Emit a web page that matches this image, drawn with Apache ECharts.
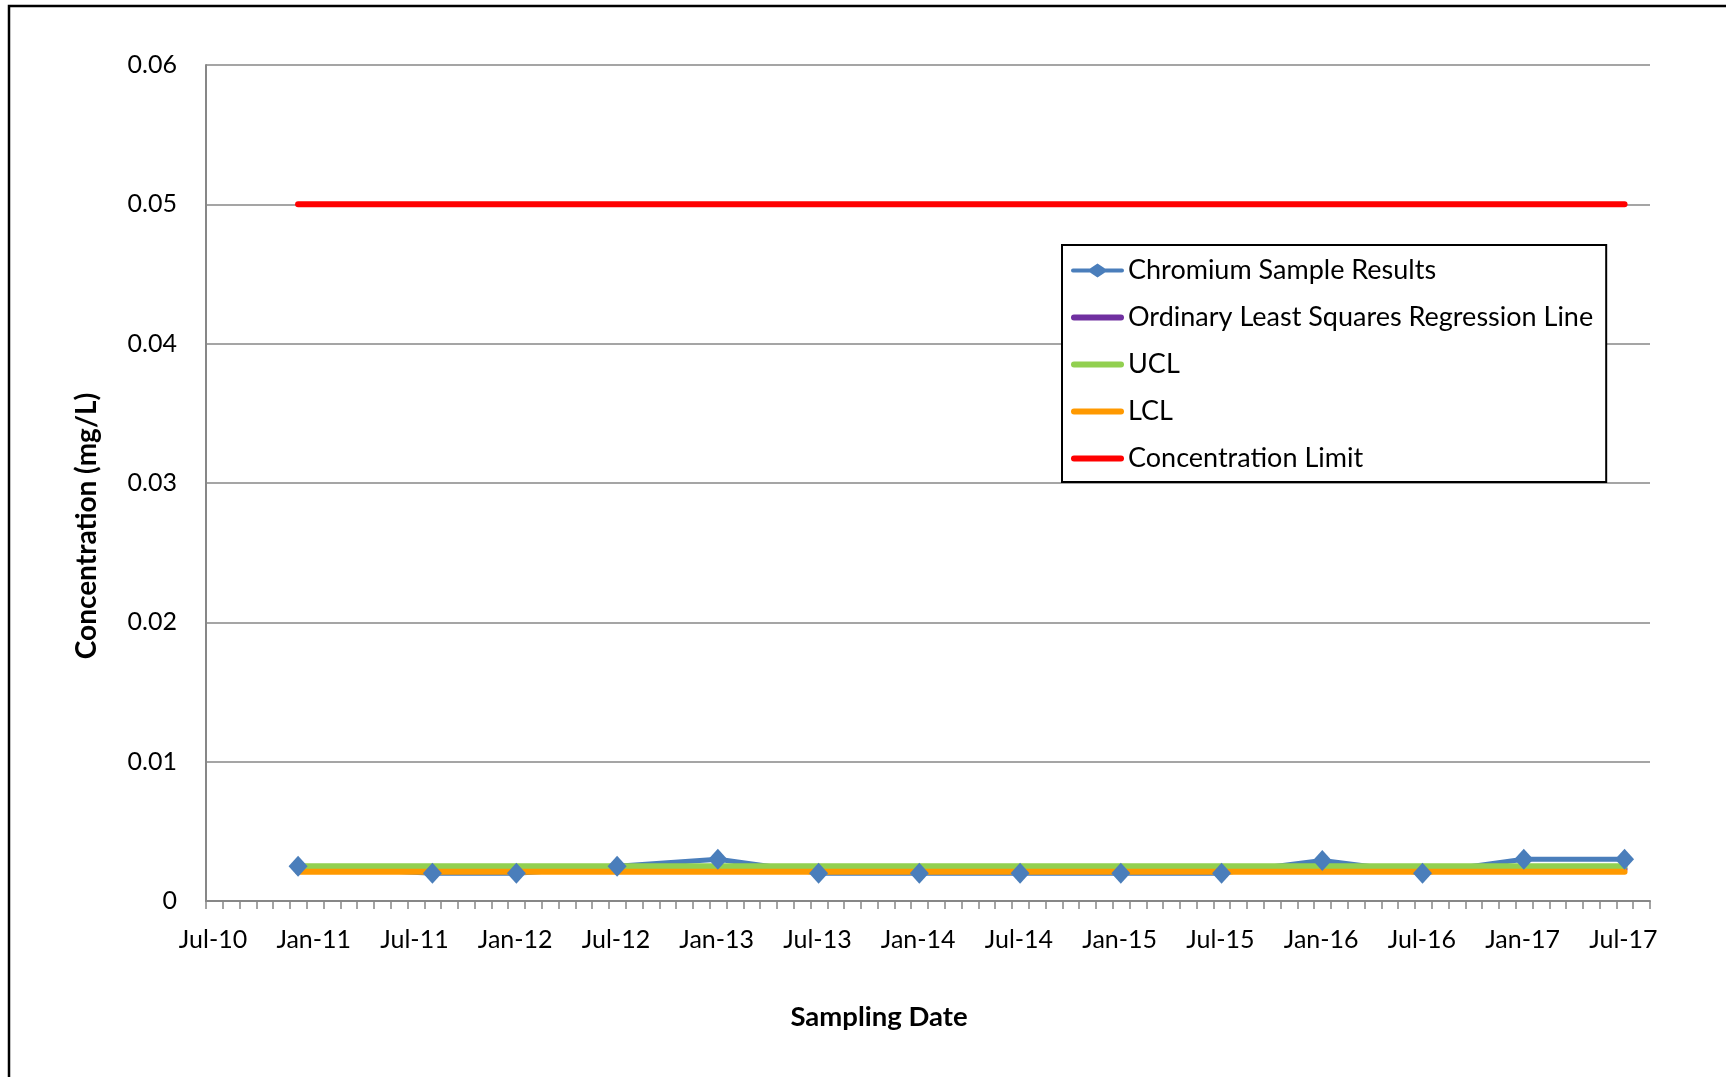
<!DOCTYPE html>
<html>
<head>
<meta charset="utf-8">
<title>Chromium Sample Results</title>
<script src="https://cdn.jsdelivr.net/npm/echarts@6/dist/echarts.min.js"></script>
<style>
  html, body { margin: 0; padding: 0; background: #ffffff; }
  #chart { width: 1726px; height: 1077px; }
</style>
</head>
<body>
<div id="chart"></div>
<script>
// Sampling dates and measured chromium concentrations (mg/L)
const sampleDates = ['2010-12-16', '2011-08-16', '2012-01-16', '2012-07-16', '2013-01-16',
  '2013-07-16', '2014-01-16', '2014-07-16', '2015-01-16', '2015-07-16',
  '2016-01-16', '2016-07-15', '2017-01-16', '2017-07-16'];
const chromiumValues = [0.0025, 0.002, 0.002, 0.0025, 0.003,
  0.002, 0.002, 0.002, 0.002, 0.002,
  0.0029, 0.002, 0.003, 0.003];

// Reference lines span the first to the last sampling date
const lineDates = ['2010-12-16', '2017-07-16'];
const olsValues = [0.0023, 0.0023];
const uclValues = [0.0025, 0.0025];
const lclValues = [0.0021, 0.0021];
const limitValues = [0.05, 0.05];

// Date axis labels, one every six months starting at Jul-10
const xTickLabels = ['Jul-10', 'Jan-11', 'Jul-11', 'Jan-12', 'Jul-12', 'Jan-13', 'Jul-13', 'Jan-14',
  'Jul-14', 'Jan-15', 'Jul-15', 'Jan-16', 'Jul-16', 'Jan-17', 'Jul-17'];
const yTickValues = [0, 0.01, 0.02, 0.03, 0.04, 0.05, 0.06];

const FONT = 'Lato, "Open Sans", sans-serif';

// Legend glyphs: a thick bar, and a bar with a diamond marker
const BAR_ICON = 'path://M3,0H50A3,3,0,0,1,50,6H3A3,3,0,0,1,3,0Z';
const DIAMOND_ICON = 'path://M2,5H19L26.5,0L34,5H51A2,2,0,0,1,51,9H34L26.5,14L19,9H2A2,2,0,0,1,2,5Z';

// Months elapsed since 1 Jul 2010 (monthly axis units)
function monthIndex(dateStr) {
  const [y, m, d] = dateStr.split('-').map(Number);
  const daysInMonth = new Date(y, m, 0).getDate();
  return (y - 2010) * 12 + (m - 7) + (d - 1) / daysInMonth;
}
function pairs(dates, values) {
  return dates.map((d, i) => [monthIndex(d), values[i]]);
}

const chart = echarts.init(document.getElementById('chart'), null, { renderer: 'canvas' });

chart.setOption({
  animation: false,
  backgroundColor: '#ffffff',
  textStyle: { fontFamily: FONT },
  grid: { left: 206, right: 76, top: 65, bottom: 176, containLabel: false },
  xAxis: {
    type: 'value',
    min: 0,
    max: 86,
    interval: 1,
    axisLine: { show: true, lineStyle: { color: '#878787', width: 2 } },
    axisTick: { show: true, length: 8, inside: false, lineStyle: { color: '#878787', width: 1.5 } },
    splitLine: { show: false },
    axisLabel: {
      interval: 0,
      margin: 26,
      color: '#000000',
      fontFamily: FONT,
      fontSize: 25,
      padding: [0, 0, 0, 14],
      showMinLabel: true,
      showMaxLabel: true,
      hideOverlap: false,
      formatter: function (v) {
        const r = Math.round(v);
        if (r % 6 !== 0) return '';
        return xTickLabels[r / 6] || '';
      }
    }
  },
  yAxis: {
    type: 'value',
    min: 0,
    max: 0.06,
    interval: 0.01,
    axisLine: { show: true, lineStyle: { color: '#878787', width: 2 } },
    axisTick: { show: false },
    splitLine: { show: true, lineStyle: { color: '#878787', width: 1.6 } },
    axisLabel: {
      margin: 29,
      color: '#000000',
      fontFamily: FONT,
      fontSize: 25,
      formatter: function (v) {
        const idx = yTickValues.findIndex(t => Math.abs(t - v) < 1e-9);
        if (idx < 0) return '';
        return idx === 0 ? '0' : yTickValues[idx].toFixed(2);
      }
    }
  },
  legend: {
    orient: 'vertical',
    left: 1062,
    top: 245,
    padding: [12, 13, 10, 9],
    itemWidth: 53,
    itemHeight: 14,
    itemGap: 20,
    borderColor: '#000000',
    borderWidth: 2,
    backgroundColor: '#ffffff',
    textStyle: { color: '#000000', fontFamily: FONT, fontSize: 27, padding: [0, 0, 0, -1] },
    data: [
      { name: 'Chromium Sample Results', icon: DIAMOND_ICON },
      { name: 'Ordinary Least Squares Regression Line', icon: BAR_ICON },
      { name: 'UCL', icon: BAR_ICON },
      { name: 'LCL', icon: BAR_ICON },
      { name: 'Concentration Limit', icon: BAR_ICON }
    ]
  },
  series: [
    {
      name: 'Chromium Sample Results',
      type: 'line',
      data: pairs(sampleDates, chromiumValues),
      symbol: 'diamond',
      symbolSize: [19, 21],
      showAllSymbol: true,
      color: '#4a7ebb',
      lineStyle: { color: '#4a7ebb', width: 5 },
      itemStyle: { color: '#4a7ebb' }
    },
    {
      name: 'Ordinary Least Squares Regression Line',
      type: 'line',
      data: pairs(lineDates, olsValues),
      symbol: 'none',
      color: '#7030a0',
      lineStyle: { color: '#7030a0', width: 6, cap: 'round' }
    },
    {
      name: 'UCL',
      type: 'line',
      data: pairs(lineDates, uclValues),
      symbol: 'none',
      color: '#92d050',
      lineStyle: { color: '#92d050', width: 6, cap: 'round' }
    },
    {
      name: 'LCL',
      type: 'line',
      data: pairs(lineDates, lclValues),
      symbol: 'none',
      color: '#ff9900',
      lineStyle: { color: '#ff9900', width: 6, cap: 'round' }
    },
    {
      name: 'Concentration Limit',
      type: 'line',
      data: pairs(lineDates, limitValues),
      symbol: 'none',
      color: '#ff0000',
      lineStyle: { color: '#ff0000', width: 6, cap: 'round' }
    }
  ],
  graphic: [
    {
      type: 'rect',
      silent: true,
      z: -10,
      shape: { x: 9, y: 6, width: 1800, height: 1200 },
      style: { fill: null, stroke: '#000000', lineWidth: 2.5 }
    },
    {
      type: 'text',
      x: 87,
      y: 526,
      rotation: Math.PI / 2,
      style: {
        text: 'Concentration (mg/L)',
        fill: '#000000',
        font: 'bold 28px ' + FONT,
        textAlign: 'center',
        textVerticalAlign: 'middle'
      }
    },
    {
      type: 'text',
      x: 879,
      y: 1017,
      style: {
        text: 'Sampling Date',
        fill: '#000000',
        font: 'bold 27.5px ' + FONT,
        textAlign: 'center',
        textVerticalAlign: 'middle'
      }
    }
  ]
});
</script>
</body>
</html>
